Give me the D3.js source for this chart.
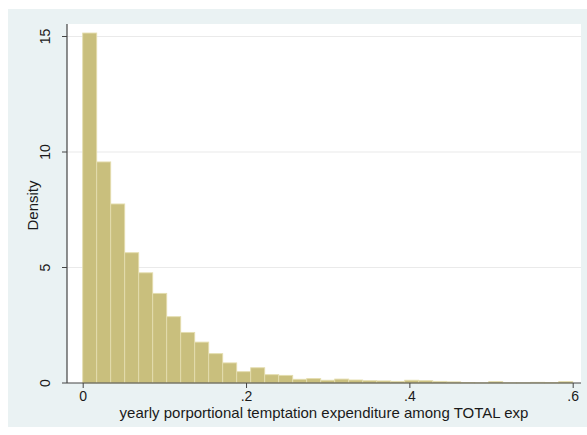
<!DOCTYPE html>
<html>
<head>
<meta charset="utf-8">
<script src="https://cdn.jsdelivr.net/npm/d3@7"></script>
<style>
  html, body { margin: 0; padding: 0; background: #ffffff; }
  svg { display: block; }
  text { font-family: "Liberation Sans", Arial, sans-serif; fill: #1a1a1a; }
</style>
</head>
<body>
<svg id="chart" width="587" height="435"></svg>
<script>
// Histogram bins (density), bin width = 0.6 / 35
const binStart = 0;
const binWidth = 0.6 / 35;
const densities = [15.15, 9.57, 7.75, 5.64, 4.77, 3.88, 2.87, 2.19, 1.77, 1.27,
                   0.87, 0.49, 0.66, 0.36, 0.33, 0.16, 0.19, 0.12, 0.17, 0.13,
                   0.10, 0.09, 0.07, 0.12, 0.10, 0.07, 0.05, 0.02, 0.01, 0.06,
                   0.01, 0.01, 0.03, 0.02, 0.06];
const xTicks = [0, 0.2, 0.4, 0.6];
const xTickLabels = ["0", ".2", ".4", ".6"];
const yTicks = [0, 5, 10, 15];
const yTickLabels = ["0", "5", "10", "15"];
const xTitle = "yearly porportional temptation expenditure among TOTAL exp";
const yTitle = "Density";

const svg = d3.select("#chart");
const W = 587, H = 435;

// outer graph region
svg.append("rect").attr("x", 8).attr("y", 9).attr("width", W - 8).attr("height", 418)
  .attr("fill", "#eaf2f3");

const plot = { left: 67, top: 24, right: 581, bottom: 383 };
svg.append("rect").attr("x", plot.left).attr("y", plot.top)
  .attr("width", plot.right - plot.left).attr("height", plot.bottom - plot.top)
  .attr("fill", "#ffffff");

const x = d3.scaleLinear().domain([0, 0.6]).range([82.7, 572.7]);
const y = d3.scaleLinear().domain([0, 15]).range([383, 36.5]);

// gridlines
svg.append("g").selectAll("line").data(yTicks.filter(d => d > 0)).join("line")
  .attr("x1", plot.left).attr("x2", plot.right)
  .attr("y1", d => y(d)).attr("y2", d => y(d))
  .attr("stroke", "#eaeaea").attr("stroke-width", 1.2);

// bars
svg.append("g").selectAll("rect").data(densities).join("rect")
  .attr("x", (d, i) => x(binStart + i * binWidth))
  .attr("width", (d, i) => x(binStart + (i + 1) * binWidth) - x(binStart + i * binWidth))
  .attr("y", d => y(d))
  .attr("height", d => y(0) - y(d))
  .attr("fill", "#c9bf7d")
  .attr("stroke", "#e4ddae")
  .attr("stroke-width", 0.9);

// axes
const yAxis = d3.axisLeft(y).tickValues(yTicks).tickFormat((d, i) => yTickLabels[i])
  .tickSize(5).tickPadding(8);
const gy = svg.append("g").attr("transform", `translate(${plot.left},0)`).call(yAxis);
gy.select(".domain").attr("d", `M0,${plot.top}V${plot.bottom}`).attr("stroke", "#444").attr("stroke-width", 1.2);
gy.selectAll(".tick line").attr("stroke", "#444");
gy.selectAll(".tick text")
  .attr("transform", d => `rotate(-90)`)
  .attr("x", d => -y(d)).attr("y", -17)
  .attr("dy", 0)
  .attr("text-anchor", "middle")
  .style("font-size", "14px")
  .style("font-family", "'Liberation Sans', Arial, sans-serif")
  .attr("fill", "#1a1a1a");
gy.selectAll(".tick").each(function(d) {
  d3.select(this).attr("transform", "translate(0,0)");
  d3.select(this).select("line").attr("y1", y(d)).attr("y2", y(d)).attr("x2", -5);
});

const xAxis = d3.axisBottom(x).tickValues(xTicks).tickFormat((d, i) => xTickLabels[i])
  .tickSize(5).tickPadding(3);
const gx = svg.append("g").attr("transform", `translate(0,${plot.bottom})`).call(xAxis);
gx.select(".domain").attr("d", `M${plot.left},0H${plot.right}`).attr("stroke", "#444").attr("stroke-width", 1.2);
gx.selectAll(".tick line").attr("stroke", "#444");
gx.selectAll(".tick text")
  .style("font-size", "14px")
  .style("font-family", "'Liberation Sans', Arial, sans-serif")
  .attr("fill", "#1a1a1a");

// axis titles
svg.append("text").attr("x", (plot.left + plot.right) / 2).attr("y", 418)
  .attr("text-anchor", "middle").style("font-size", "15px").text(xTitle);
svg.append("text").attr("transform", `translate(38,${(plot.top + plot.bottom) / 2 + 2}) rotate(-90)`)
  .attr("text-anchor", "middle").style("font-size", "15px").text(yTitle);
</script>
</body>
</html>
